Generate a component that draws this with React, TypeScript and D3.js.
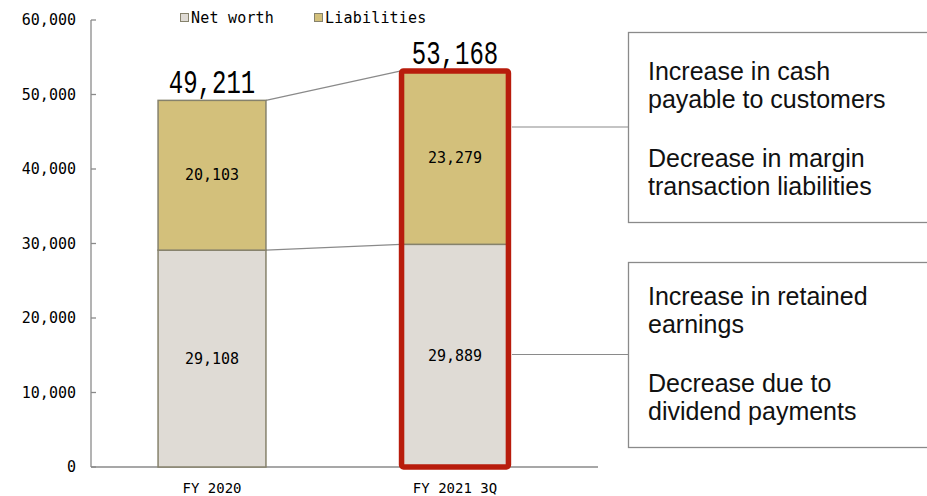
import React, { useEffect, useRef } from "react";
import * as d3 from "d3";

const categories = ["FY 2020", "FY 2021 3Q"];
const netWorth = [29108, 29889];
const liabilities = [20103, 23279];
const totals = [49211, 53168];
const yTicks = [0, 10000, 20000, 30000, 40000, 50000, 60000];
const seriesNames = ["Net worth", "Liabilities"];
const notesLiabilities = [["Increase in cash", "payable to customers"], ["Decrease in margin", "transaction liabilities"]];
const notesNetWorth = [["Increase in retained", "earnings"], ["Decrease due to", "dividend payments"]];

const width = 927;
const height = 496;
const mono = "'DejaVu Sans Mono', monospace";
const thinMono = "'Liberation Mono', monospace";
const sans = "'Liberation Sans', Arial, sans-serif";
const colors = { net: "#dfdbd5", liab: "#d3c07b", edge: "#86826c", red: "#b81c0c", line: "#8a8a8a" };

export default function App() {
  const ref = useRef<SVGSVGElement>(null);

  useEffect(() => {
    document.body.style.margin = "0";
    const svg = d3.select(ref.current);
    const left = 91;
    const bottom = 467;

    const y = d3.scaleLinear().domain([0, 60000]).range([bottom, 20]);
    const x = d3
      .scaleBand()
      .domain(categories)
      .range([left, 576])
      .paddingInner(0.556)
      .paddingOuter(0.276);
    const bw = x.bandwidth();
    const fmt = d3.format(",");

    // axes
    svg
      .append("line")
      .attr("x1", left)
      .attr("x2", left)
      .attr("y1", y(60000))
      .attr("y2", bottom)
      .attr("stroke", colors.line)
      .attr("stroke-width", 1.3);
    svg
      .append("line")
      .attr("x1", left)
      .attr("x2", 598)
      .attr("y1", bottom)
      .attr("y2", bottom)
      .attr("stroke", colors.line)
      .attr("stroke-width", 1.3);

    const ticks = svg.append("g").selectAll("g").data(yTicks).join("g");
    ticks
      .append("line")
      .attr("x1", left)
      .attr("x2", left + 5)
      .attr("y1", d => y(d))
      .attr("y2", d => y(d))
      .attr("stroke", colors.line)
      .attr("stroke-width", 1.3);
    ticks
      .append("text")
      .attr("x", 76)
      .attr("y", d => y(d) + 5)
      .attr("text-anchor", "end")
      .attr("font-family", mono)
      .attr("font-size", 15)
      .text(d => fmt(d));

    svg
      .append("g")
      .selectAll("text")
      .data(categories)
      .join("text")
      .attr("x", d => x(d)! + bw / 2)
      .attr("y", 493)
      .attr("text-anchor", "middle")
      .attr("font-family", mono)
      .attr("font-size", 14)
      .text(d => d);

    // connector lines between the two bars
    [totals, netWorth].forEach(vals => {
      svg
        .append("line")
        .attr("x1", x(categories[0])! + bw)
        .attr("y1", y(vals[0]))
        .attr("x2", x(categories[1])!)
        .attr("y2", y(vals[1]))
        .attr("stroke", colors.line)
        .attr("stroke-width", 1.2);
    });

    // stacked bars
    const bars = svg.append("g").selectAll("g").data(categories).join("g");
    bars
      .append("rect")
      .attr("x", d => x(d)!)
      .attr("width", bw)
      .attr("y", (d, i) => y(netWorth[i]))
      .attr("height", (d, i) => bottom - y(netWorth[i]))
      .attr("fill", colors.net)
      .attr("stroke", colors.edge)
      .attr("stroke-width", 1.5);
    bars
      .append("rect")
      .attr("x", d => x(d)!)
      .attr("width", bw)
      .attr("y", (d, i) => y(totals[i]))
      .attr("height", (d, i) => y(netWorth[i]) - y(totals[i]))
      .attr("fill", colors.liab)
      .attr("stroke", colors.edge)
      .attr("stroke-width", 1.5);
    bars
      .append("text")
      .attr("x", d => x(d)! + bw / 2)
      .attr("y", (d, i) => y(netWorth[i] / 2) + 5)
      .attr("text-anchor", "middle")
      .attr("font-family", mono)
      .attr("font-size", 15)
      .text((d, i) => fmt(netWorth[i]));
    bars
      .append("text")
      .attr("x", d => x(d)! + bw / 2)
      .attr("y", (d, i) => y(netWorth[i] + liabilities[i] / 2) + 5)
      .attr("text-anchor", "middle")
      .attr("font-family", mono)
      .attr("font-size", 15)
      .text((d, i) => fmt(liabilities[i]));
    bars
      .append("text")
      .attr("transform", (d, i) => `translate(${x(d)! + bw / 2},${y(totals[i]) - 7}) scale(1,1.35)`)
      .attr("text-anchor", "middle")
      .attr("font-family", thinMono)
      .attr("font-size", 24)
      .text((d, i) => fmt(totals[i]));

    // highlight on latest bar
    const last = categories[1];
    svg
      .append("rect")
      .attr("x", x(last)! + 0.5)
      .attr("y", y(totals[1]))
      .attr("width", bw - 1)
      .attr("height", bottom - y(totals[1]))
      .attr("rx", 2)
      .attr("fill", "none")
      .attr("stroke", colors.red)
      .attr("stroke-width", 5.5);

    // legend
    const legend = svg
      .append("g")
      .selectAll("g")
      .data(seriesNames)
      .join("g")
      .attr("transform", (d, i) => `translate(${180 + i * 134},0)`);
    legend
      .append("rect")
      .attr("x", 0.5)
      .attr("y", 13.5)
      .attr("width", 8)
      .attr("height", 8)
      .attr("fill", (d, i) => (i === 0 ? colors.net : colors.liab))
      .attr("stroke", colors.edge);
    legend
      .append("text")
      .attr("x", 11)
      .attr("y", 23)
      .attr("font-family", mono)
      .attr("font-size", 15)
      .attr("letter-spacing", 0.2)
      .text(d => d);

    // callout boxes
    const boxes = [
      { top: 32, bottom: 222, first: 80, gap: 87, notes: notesLiabilities },
      { top: 262, bottom: 447, first: 305, gap: 87, notes: notesNetWorth }
    ];
    boxes.forEach(b => {
      const mid = (b.top + b.bottom) / 2;
      svg
        .append("line")
        .attr("x1", x(last)! + bw + 3)
        .attr("x2", 628)
        .attr("y1", mid)
        .attr("y2", mid)
        .attr("stroke", colors.line)
        .attr("stroke-width", 1.2);
      svg
        .append("rect")
        .attr("x", 628.5)
        .attr("y", b.top + 0.5)
        .attr("width", 320)
        .attr("height", b.bottom - b.top)
        .attr("fill", "#fff")
        .attr("stroke", colors.line)
        .attr("stroke-width", 1.3);
      b.notes.forEach((para, p) => {
        svg
          .append("text")
          .attr("font-family", sans)
          .attr("font-size", 25)
          .attr("fill", "#111")
          .selectAll("tspan")
          .data(para)
          .join("tspan")
          .attr("x", 648)
          .attr("y", (d, i) => b.first + p * b.gap + i * 28)
          .text(d => d);
      });
    });

    return () => {
      svg.html("");
    };
  }, []);

  return <svg ref={ref} width={width} height={height} style={{ display: "block", background: "#fff" }} />;
}
